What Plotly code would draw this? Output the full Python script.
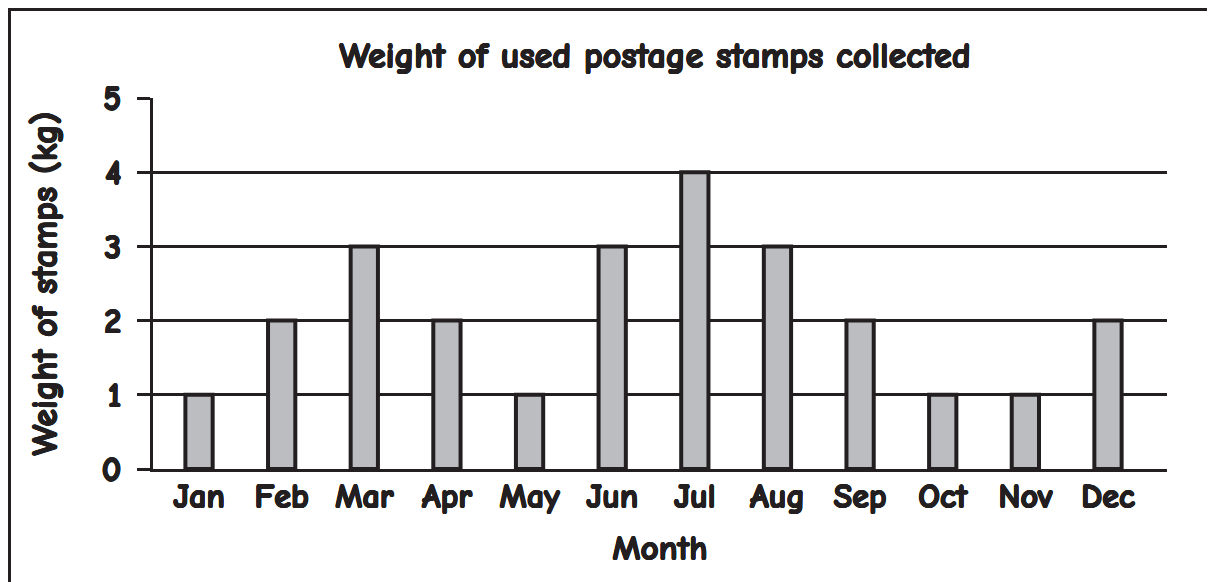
import plotly.graph_objects as go

months = ["Jan", "Feb", "Mar", "Apr", "May", "Jun", "Jul", "Aug", "Sep", "Oct", "Nov", "Dec"]
weights_kg = [1, 2, 3, 2, 1, 3, 4, 3, 2, 1, 1, 2]
y_ticks = [0, 1, 2, 3, 4, 5]

title_text = "Weight of used postage stamps collected"
x_title = "Month"
y_title = "Weight of stamps (kg)"

INK = "#231F20"
FONT = "Comic Neue, Comic Sans MS, DejaVu Sans, sans-serif"
# Comic Neue has no bold face here: thicken the strokes with a tight shadow
BOLD = ", ".join(
    f"{dx}px {dy}px 0 {INK}"
    for dx, dy in [(0.65, 0), (-0.65, 0), (0, 0.65), (0, -0.65),
                   (0.45, 0.45), (-0.45, -0.45), (0.45, -0.45), (-0.45, 0.45)]
)

# the page body has an 8px default margin; the figure is sized and
# laid out so that its content lands where the reference has it
OFF = 8
W, H = 1215 - OFF, 582 - OFF
L, R, T, B = 153 - OFF, 48, 98 - OFF, 113
pw, ph = W - L - R, H - T - B


def px(x):
    return (x - OFF - L) / pw


def py(y):
    return (H - B - (y - OFF)) / ph


def f(size):
    return dict(size=size, family=FONT, color=INK, weight="bold", shadow=BOLD)


fig = go.Figure()
fig.add_trace(go.Bar(
    x=months,
    y=weights_kg,
    width=0.33,
    marker=dict(color="#BCBDC1", line=dict(color=INK, width=4)),
    hoverinfo="x+y",
))

fig.update_layout(
    width=W, height=H,
    margin=dict(l=L, r=R, t=T, b=B, pad=0),
    paper_bgcolor="white",
    plot_bgcolor="white",
    showlegend=False,
    font=f(30),
    title=dict(
        text=title_text,
        x=px(655), xref="paper", xanchor="center",
        y=1 - (55 - OFF) / H, yref="container", yanchor="middle",
        font=f(36),
    ),
    xaxis=dict(
        type="category",
        range=[-0.557, 11.714],
        showline=True, linecolor=INK, linewidth=3,
        showgrid=False, zeroline=False,
        ticks="", ticklabelstandoff=-5,
        tickfont=f(34),
        title=dict(text=x_title, standoff=20, font=f(35)),
    ),
    yaxis=dict(
        range=[0, 5],
        tickvals=y_ticks,
        showline=True, linecolor=INK, linewidth=3,
        showgrid=True, gridcolor=INK, gridwidth=2.5,
        zeroline=False,
        ticks="outside", ticklen=13, tickwidth=3, tickcolor=INK,
        ticklabelstandoff=9,
        tickfont=f(34),
        title=dict(text=y_title, standoff=34, font=f(36)),
    ),
    shapes=[
        dict(type="line", xref="paper", yref="paper",
             x0=px(9.5), x1=px(9.5), y0=py(9), y1=py(640),
             line=dict(color=INK, width=3)),
        dict(type="line", xref="paper", yref="paper",
             x0=px(8), x1=px(1214), y0=py(9.5), y1=py(9.5),
             line=dict(color=INK, width=3)),
        dict(type="line", xref="paper", yref="paper",
             x0=px(1213.5), x1=px(1213.5), y0=py(9), y1=py(640),
             line=dict(color="#C8C8C8", width=1)),
    ],
)

fig.write_html("out.html")
